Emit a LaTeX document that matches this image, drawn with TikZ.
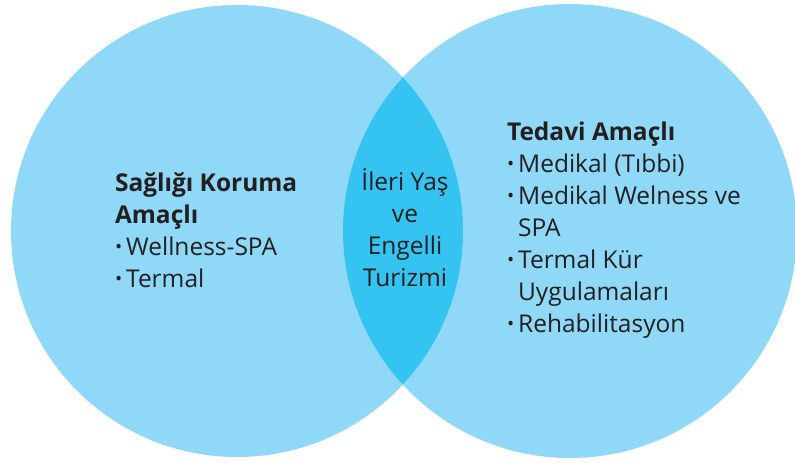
\documentclass[tikz,border=0pt]{standalone}
\usepackage{fontspec}
\setmainfont{Open Sans}
\definecolor{lightblue}{HTML}{8FD8F7}
\definecolor{lensblue}{HTML}{35C4F1}
\definecolor{ink}{HTML}{231F20}
\newcommand\bul{\raisebox{0.12ex}{\fontsize{19}{19}\selectfont •}}
\tikzset{
  venntext/.style={inner sep=0pt, outer sep=0pt, text=ink, font=\fontsize{24.5}{32}\selectfont},
}
\begin{document}
\begin{tikzpicture}[x=1pt,y=-1pt]
\useasboundingbox (0,0) rectangle (795,463);
\fill[white] (0,0) rectangle (795,463);
\fill[lightblue] (237,231) circle (226);
\fill[lightblue] (570,231) circle (227);
\begin{scope}
  \clip (237,231) circle (226);
  \fill[lensblue] (570,231) circle (227);
\end{scope}
\node[venntext, anchor=base west] (left) at (115,191) {%
  \begin{tabular}[t]{@{}l@{\hspace{4pt}}l@{}}
  \multicolumn{2}{@{}l@{}}{\bfseries Sağlığı Koruma}\\
  \multicolumn{2}{@{}l@{}}{\bfseries Amaçlı}\\
  \bul & Wellness-SPA\\
  \bul & Termal
  \end{tabular}};
\node[venntext, anchor=base west] (right) at (507,140) {%
  \begin{tabular}[t]{@{}l@{\hspace{4pt}}l@{}}
  \multicolumn{2}{@{}l@{}}{\bfseries Tedavi Amaçlı}\\
  \bul & Medikal (Tıbbi)\\
  \bul & Medikal Welness ve\\
       & SPA\\
  \bul & Termal Kür\\
       & Uygulamaları\\
  \bul & Rehabilitasyon
  \end{tabular}};
\node[venntext, anchor=base] (mid) at (405,190) {%
  \begin{tabular}[t]{@{}c@{}}
  İleri Yaş\\ ve\\ Engelli\\ Turizmi
  \end{tabular}};
\end{tikzpicture}
\end{document}
